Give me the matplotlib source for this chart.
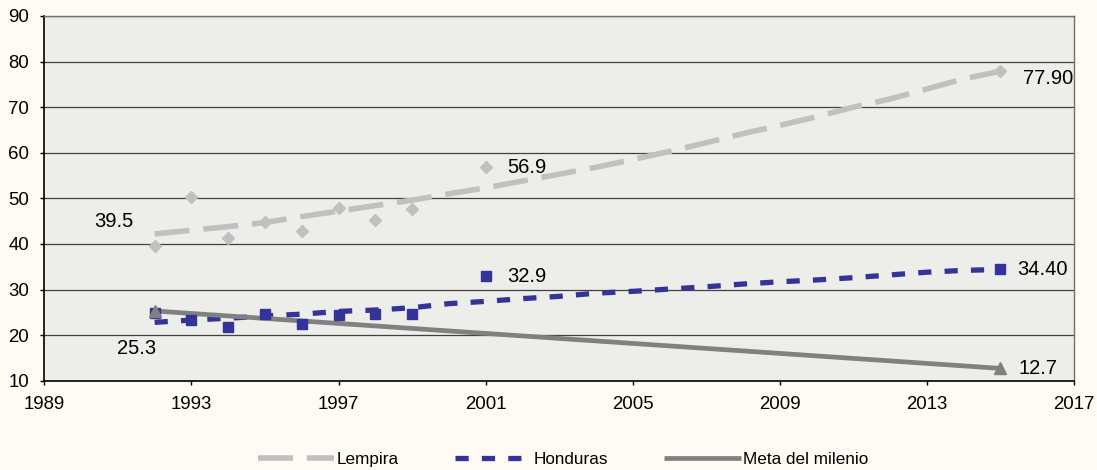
import matplotlib
matplotlib.use("Agg")
import matplotlib.pyplot as plt

plt.rcParams['font.family'] = ['Liberation Sans', 'DejaVu Sans']

# datos observados (marcadores)
anios_obs = [1992, 1993, 1994, 1995, 1996, 1997, 1998, 1999, 2001, 2015]
lempira_obs = [39.5, 50.3, 41.4, 44.8, 42.9, 47.9, 45.3, 47.7, 56.9, 77.9]
honduras_obs = [24.9, 23.3, 21.7, 24.7, 22.4, 24.5, 24.6, 24.7, 32.9, 34.4]

# lineas de tendencia
anios = list(range(1992, 2016))
lempira_lin = [42.2, 43.0, 43.8, 44.7, 46.0, 47.2, 48.4, 49.6, 51.0, 52.3, 53.8, 55.3,
               56.8, 58.5, 60.3, 62.2, 64.2, 66.0, 67.9, 70.0, 71.8, 74.0, 76.2, 77.9]
honduras_lin = [22.8, 23.3, 23.7, 24.2, 24.6, 25.2, 25.5, 26.0, 26.9, 27.4, 28.0, 28.5,
                29.2, 29.6, 30.1, 30.6, 31.2, 31.7, 32.1, 32.6, 33.2, 33.8, 34.2, 34.4]

# meta del milenio
anios_meta = [1992, 2015]
meta = [25.3, 12.7]

x_ticks = [1989, 1993, 1997, 2001, 2005, 2009, 2013, 2017]
y_ticks = [10, 20, 30, 40, 50, 60, 70, 80, 90]

c_lemp = '#C0C0C0'
c_hond = '#333399'
c_meta = '#808080'

fig = plt.figure(figsize=(10.97, 4.70), dpi=100)
fig.patch.set_facecolor('#FEFBF4')
ax = fig.add_axes([0.0404, 0.19, 0.9386, 0.776])
ax.set_facecolor('#EDEDE9')

# lineas
ax.plot(anios, lempira_lin, color=c_lemp, lw=4.0, dashes=(6.3, 2.5), label='Lempira', zorder=3)
ax.plot(anios, honduras_lin, color=c_hond, lw=3.8, dashes=(2.5, 2.5), label='Honduras', zorder=3)
ax.plot(anios_meta, meta, color=c_meta, lw=3.4, solid_capstyle='butt', label='Meta del milenio', zorder=4)

# marcadores
ax.plot(anios_obs, lempira_obs, ls='none', marker='D', ms=6.5, color=c_lemp, zorder=5)
ax.plot(anios_obs, honduras_obs, ls='none', marker='s', ms=6.5, color=c_hond, zorder=5)
ax.plot(anios_meta, meta, ls='none', marker='^', ms=8, color=c_meta, zorder=6)

# etiquetas de datos
fs = 14.5
ax.annotate('39.5', (1992, lempira_obs[0]), xytext=(-15.5, 17.8), textcoords='offset points',
            ha='right', va='center', fontsize=fs)
ax.annotate('56.9', (2001, lempira_obs[8]), xytext=(15.3, -0.7), textcoords='offset points',
            ha='left', va='center', fontsize=fs)
ax.annotate('77.90', (2015, lempira_obs[9]), xytext=(16.1, -5.4), textcoords='offset points',
            ha='left', va='center', fontsize=fs)
ax.annotate('32.9', (2001, honduras_obs[8]), xytext=(15.3, 0), textcoords='offset points',
            ha='left', va='center', fontsize=fs)
ax.annotate('34.40', (2015, honduras_obs[9]), xytext=(11.8, 0), textcoords='offset points',
            ha='left', va='center', fontsize=fs)
ax.annotate('25.3', (1992, meta[0]), xytext=(-12.7, -26.8), textcoords='offset points',
            ha='center', va='center', fontsize=fs)
ax.annotate('12.7', (2015, meta[1]), xytext=(12.7, 0), textcoords='offset points',
            ha='left', va='center', fontsize=fs)

# ejes
ax.set_xlim(1989, 2017)
ax.set_ylim(10, 90)
ax.set_xticks(x_ticks)
ax.set_yticks(y_ticks)
ax.tick_params(axis='both', direction='out', length=3.2, width=1, labelsize=13.4, color='black')
ax.tick_params(axis='x', pad=7.5)
ax.tick_params(axis='y', pad=7.7)
ax.yaxis.grid(True, color='#404040', lw=0.9)
ax.set_axisbelow(True)
for s in ['left', 'bottom']:
    ax.spines[s].set_color('black')
    ax.spines[s].set_linewidth(1.2)
for s in ['top', 'right']:
    ax.spines[s].set_color('#707070')
    ax.spines[s].set_linewidth(1.0)

fig.legend(loc='center', bbox_to_anchor=(0.513, 0.0234), ncol=3, frameon=False,
           fontsize=12.3, handlelength=4.5, handletextpad=0.1, columnspacing=3.3)

fig.savefig('out.png', dpi=100, facecolor=fig.get_facecolor())
